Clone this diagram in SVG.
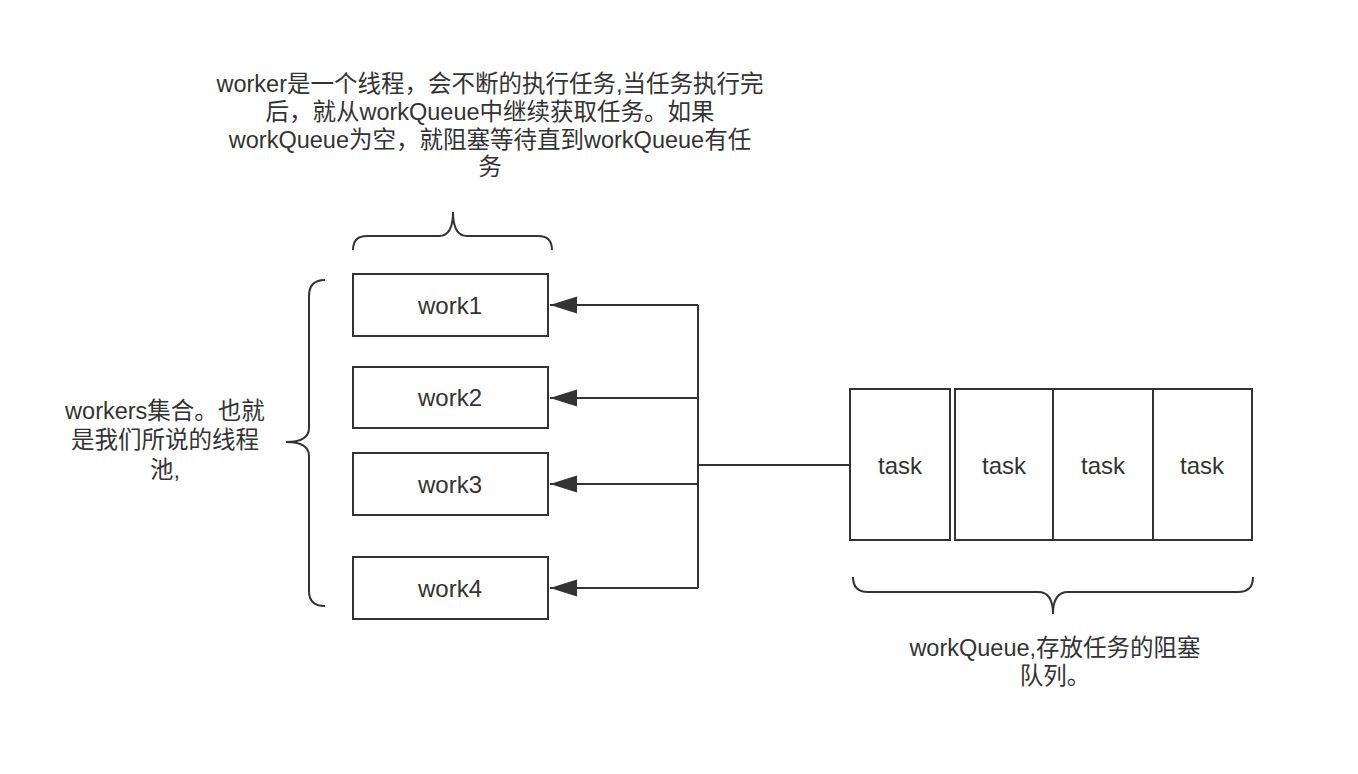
<svg xmlns="http://www.w3.org/2000/svg" width="1358" height="774" viewBox="0 0 1358 774">
<style>
.box{fill:#fff;stroke:#333;stroke-width:2}
.ln{fill:none;stroke:#333;stroke-width:2}
.br{fill:none;stroke:#333;stroke-width:2}
text{font-family:"Liberation Sans","Noto Sans CJK SC",sans-serif;fill:#333;text-anchor:middle;dominant-baseline:central}
.t{font-size:23.5px}
.n{font-size:24px}
</style>
<defs>
<marker id="arr" markerUnits="userSpaceOnUse" markerWidth="28" markerHeight="18" refX="27" refY="9" orient="auto">
<path d="M0,0.5 L27,9 L0,17.5 Z" fill="#333"/>
</marker>
</defs>
<rect width="1358" height="774" fill="#fff"/>
<g id="note-top">
<text class="t" x="490" y="84">worker是一个线程，会不断的执行任务,当任务执行完</text>
<text class="t" x="490" y="112">后，就从workQueue中继续获取任务。如果</text>
<text class="t" x="490" y="140">workQueue为空，就阻塞等待直到workQueue有任</text>
<text class="t" x="490" y="167">务</text>
<path class="br" d="M353,250 Q353,236 367,236 L439,236 Q453,236 453,212 Q453,236 467,236 L538,236 Q552,236 552,250"/>
</g>
<g id="note-left">
<text class="t" x="165" y="411">workers集合。也就</text>
<text class="t" x="165" y="440">是我们所说的线程</text>
<text class="t" x="165" y="470">池,</text>
<path class="br" d="M325,280 Q309,280 309,296 L309,428 Q309,442 286,442 Q309,442 309,456 L309,591 Q309,606 325,606"/>
</g>
<g id="work1"><rect class="box" x="353" y="274" width="195" height="62"/><text class="n" x="450" y="305">work1</text></g>
<g id="work2"><rect class="box" x="353" y="367" width="195" height="61"/><text class="n" x="450" y="397">work2</text></g>
<g id="work3"><rect class="box" x="353" y="453" width="195" height="62"/><text class="n" x="450" y="484">work3</text></g>
<g id="work4"><rect class="box" x="353" y="557" width="195" height="62"/><text class="n" x="450" y="588">work4</text></g>
<g id="task1"><rect class="box" x="850" y="389" width="100" height="151"/><text class="n" x="900" y="465">task</text></g>
<g id="task2"><rect class="box" x="955" y="389" width="98" height="151"/><text class="n" x="1004" y="465">task</text></g>
<g id="task3"><rect class="box" x="1053" y="389" width="100" height="151"/><text class="n" x="1103" y="465">task</text></g>
<g id="task4"><rect class="box" x="1153" y="389" width="99" height="151"/><text class="n" x="1202" y="465">task</text></g>
<g id="note-bottom">
<path class="br" d="M853,577 Q853,592 868,592 L1038,592 Q1053,592 1053,614 Q1053,592 1068,592 L1238,592 Q1253,592 1253,577"/>
<text class="t" x="1055" y="648">workQueue,存放任务的阻塞</text>
<text class="t" x="1055" y="676">队列。</text>
</g>
<g id="connectors">
<path class="ln" d="M850,465 L698,465"/>
<path class="ln" d="M698,305 L698,588"/>
<path class="ln" d="M698,305 L550,305" marker-end="url(#arr)"/>
<path class="ln" d="M698,398 L550,398" marker-end="url(#arr)"/>
<path class="ln" d="M698,484 L550,484" marker-end="url(#arr)"/>
<path class="ln" d="M698,588 L550,588" marker-end="url(#arr)"/>
</g>
</svg>
